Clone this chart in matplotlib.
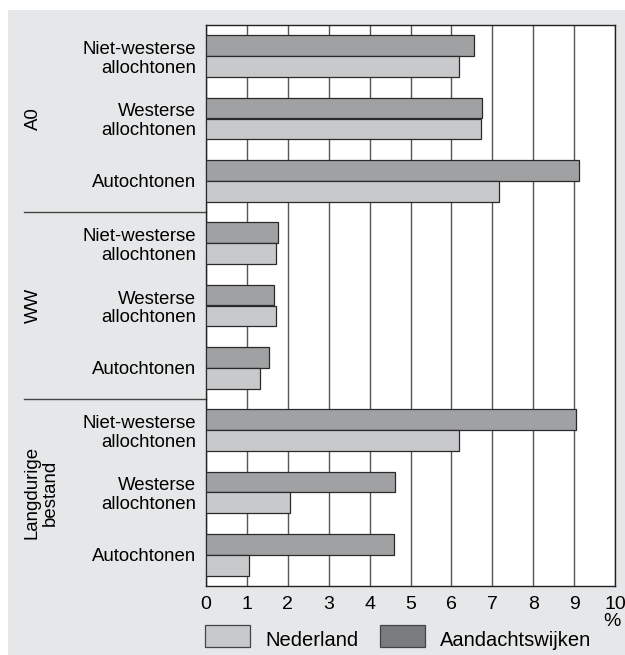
import matplotlib
matplotlib.use('Agg')
import matplotlib.pyplot as plt
from matplotlib.patches import Rectangle
import numpy as np

plt.rcParams['font.family'] = ['Liberation Sans', 'DejaVu Sans']

# categories, top to bottom
sections = ['A0', 'WW', 'Langdurige\nbestand']
groups = ['Niet-westerse\nallochtonen', 'Westerse\nallochtonen', 'Autochtonen']
labels = groups * 3

aandacht = [6.55, 6.75, 9.12, 1.76, 1.66, 1.54, 9.05, 4.62, 4.60]
nederland = [6.19, 6.72, 7.16, 1.71, 1.71, 1.32, 6.19, 2.05, 1.05]

dark_col = '#a0a1a3'
light_col = '#c8c9cb'
legend_dark = '#7b7c7e'
bg = '#e6e7e8'

fig = plt.figure(figsize=(6.25, 6.55), dpi=100)
fig.patch.set_facecolor('white')
# grey panel
fig.patches.append(Rectangle((8 / 625, 0), 1, 1 - 10 / 655, transform=fig.transFigure,
                             facecolor=bg, edgecolor='none', zorder=-10))

ax = fig.add_axes([206 / 625, 1 - 586 / 655, 409 / 625, 561 / 655])
ax.set_facecolor('white')

n = len(labels)
centers = np.arange(n) + 0.5
h = 1 / 3
ax.barh(centers - h / 2, aandacht, height=h, color=dark_col, edgecolor='#2a2a2a',
        linewidth=0.9, zorder=3)
ax.barh(centers + h / 2, nederland, height=h, color=light_col, edgecolor='#2a2a2a',
        linewidth=0.9, zorder=3)

ax.set_xlim(0, 10)
ax.set_ylim(n, 0)
ax.set_xticks(range(11))
ax.tick_params(axis='x', length=0, labelsize=14, pad=7)
ax.set_yticks(centers)
ax.set_yticklabels(labels, fontsize=13.4)
ax.tick_params(axis='y', length=0, pad=7)
for t in ax.get_yticklabels():
    t.set_multialignment('right')
    t.set_linespacing(1.15)
ax.grid(axis='x', color='#555555', linewidth=1.0, zorder=0)
for s in ax.spines.values():
    s.set_color('#222222')
    s.set_linewidth(1.0)

# section dividers and labels
for k in (3, 6):
    ax.plot([-0.445, 0], [1 - k / n, 1 - k / n], transform=ax.transAxes,
            color='#444444', linewidth=1.0, clip_on=False)
sec_x = [33, 33, 41]
for i, sec in enumerate(sections):
    ax.text((sec_x[i] - 206) / 409, 1 - (3 * i + 1.5) / n, sec, transform=ax.transAxes,
            rotation=90, ha='center', va='center', fontsize=13.4, linespacing=1.05)

fig.text(612 / 625, 1 - 622 / 655, '%', ha='center', va='center', fontsize=14)

# legend
for x0, col, lab in [(205, light_col, 'Nederland'), (380, legend_dark, 'Aandachtswijken')]:
    fig.patches.append(Rectangle((x0 / 625, 1 - 647 / 655), 45 / 625, 22 / 655,
                                 transform=fig.transFigure, facecolor=col,
                                 edgecolor='#444444', linewidth=0.9))
    fig.text((x0 + 60) / 625, 1 - 640 / 655, lab, ha='left', va='center', fontsize=14.5)

fig.savefig('out.png', dpi=100, facecolor=fig.get_facecolor())
